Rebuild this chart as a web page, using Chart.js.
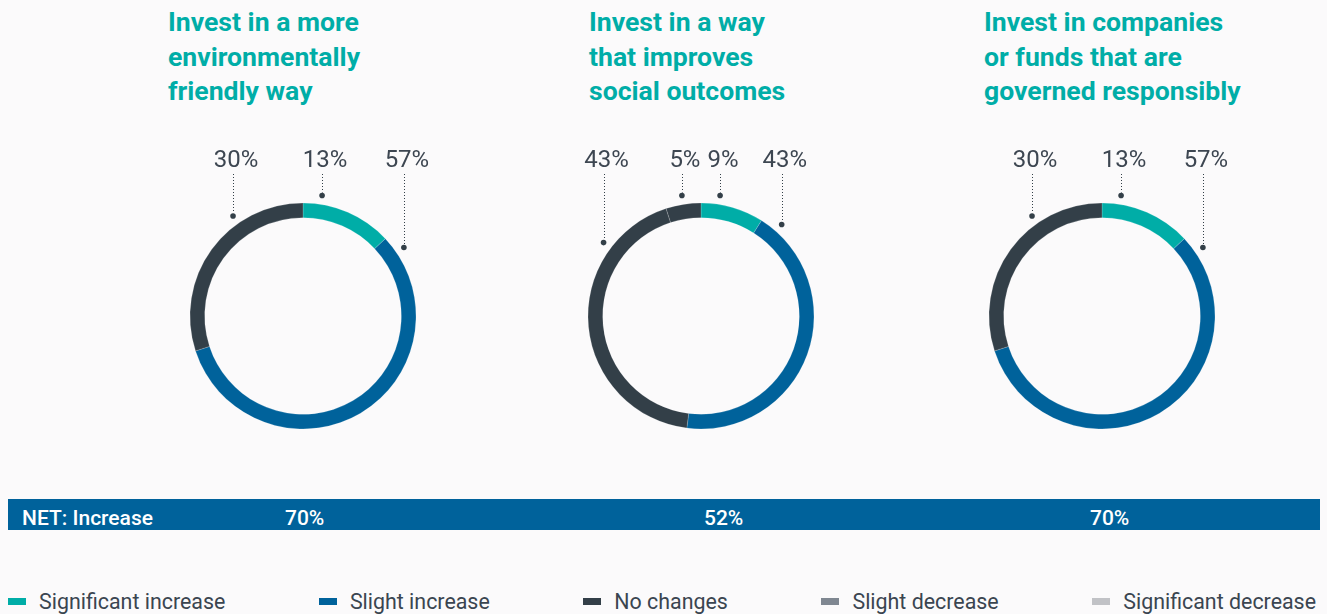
<!DOCTYPE html>
<html>
<head>
<meta charset="utf-8">
<script src="https://cdn.jsdelivr.net/npm/chart.js@4.4.0/dist/chart.umd.min.js"></script>
<style>
  body { margin: 0; background: #fbfafb; font-family: Roboto, 'Noto Sans', sans-serif; }
  #page { position: relative; width: 1327px; height: 614px; overflow: hidden; }
  .title { position: absolute; top: 5px; color: #00ada7; font-weight: 700; font-size: 26.6px; line-height: 34.5px; white-space: nowrap; }
  .donut { position: absolute; top: 130px; width: 300px; height: 320px; }
  #net { position: absolute; left: 8px; top: 499px; width: 1312px; height: 31px; background: #00629b; color: #fff; font-size: 21px; font-weight: 500; }
  #net span { position: absolute; top: 4px; line-height: 31px; }
  #legend { position: absolute; left: 8px; width: 1308px; top: 589px; display: flex; justify-content: space-between; font-size: 21.4px; color: #3a4550; }
  #legend .item { display: flex; align-items: center; white-space: nowrap; }
  #legend .box { width: 18px; height: 7px; margin-right: 13px; }
</style>
</head>
<body>
<div id="page">
  <div id="net"><span style="left:14px">NET: Increase</span></div>
  <div id="legend"></div>
</div>
<script>
const categories = ['Significant increase', 'Slight increase', 'No changes', 'Slight decrease', 'Significant decrease'];
const colors = ['#00ada7', '#00629b', '#333f48', '#7f8791', '#c1c2c6'];

const titles = [
    ['Invest in a more', 'environmentally', 'friendly way'],
    ['Invest in a way', 'that improves', 'social outcomes'],
    ['Invest in companies', 'or funds that are', 'governed responsibly']
];
const envValues = [13, 57, 30, 0, 0];
const socialValues = [9, 43, 43, 5, 0];
const governValues = [13, 57, 30, 0, 0];
const netValues = [70, 52, 70];

// layout
const centers = [303, 701, 1102];
const titleX = [168, 589, 984];
const netX = [285, 704, 1090];

const deg = d => d * Math.PI / 180;

const leaderLabels = {
    id: 'leaderLabels',
    afterDatasetsDraw(chart) {
        const ctx = chart.ctx;
        const data = chart.data.datasets[0].data;
        chart.getDatasetMeta(0).data.forEach((arc, i) => {
            if (!data[i]) return;
            const p = arc.getProps(['x', 'y', 'startAngle', 'endAngle', 'outerRadius'], true);
            const s = p.startAngle + Math.PI / 2, e = p.endAngle + Math.PI / 2;
            const half = (e - s) / 2;
            const a = (s + half) < Math.PI ? s + Math.min(half, deg(9)) : e - Math.min(half, deg(35));
            const r = p.outerRadius + 9;
            const px = p.x + r * Math.sin(a), py = p.y - r * Math.cos(a);
            ctx.save();
            ctx.strokeStyle = '#333f48';
            ctx.lineWidth = 1;
            ctx.setLineDash([1, 2]);
            ctx.beginPath();
            ctx.moveTo(Math.round(px) + 0.5, 44);
            ctx.lineTo(Math.round(px) + 0.5, py - 3);
            ctx.stroke();
            ctx.setLineDash([]);
            ctx.fillStyle = '#333f48';
            ctx.beginPath();
            ctx.arc(px, py, 2.8, 0, Math.PI * 2);
            ctx.fill();
            ctx.fillStyle = '#3d4651';
            ctx.font = '400 24px Roboto';
            ctx.textAlign = 'center';
            ctx.textBaseline = 'middle';
            ctx.fillText(data[i] + '%', px + 3, 31);
            ctx.restore();
        });
    }
};

const page = document.getElementById('page');
const allValues = [envValues, socialValues, governValues];

allValues.forEach((vals, k) => {
    const t = document.createElement('div');
    t.className = 'title';
    t.style.left = titleX[k] + 'px';
    t.innerHTML = titles[k].join('<br>');
    page.appendChild(t);

    const box = document.createElement('div');
    box.className = 'donut';
    box.style.left = (centers[k] - 150) + 'px';
    const cv = document.createElement('canvas');
    cv.width = 300; cv.height = 320;
    box.appendChild(cv);
    page.appendChild(box);

    // the social chart draws its 5% slice in the no-change colour
    const segColors = k === 1 ? [colors[0], colors[1], colors[2], colors[2], colors[4]] : colors;

    new Chart(cv.getContext('2d'), {
        type: 'doughnut',
        data: {
            labels: categories,
            datasets: [{
                data: vals,
                backgroundColor: segColors,
                borderWidth: 1,
                borderColor: 'rgba(255,255,255,0.18)'
            }]
        },
        options: {
            responsive: false,
            animation: false,
            cutout: '87%',
            layout: { padding: { top: 72.5, bottom: 20.5, left: 36.5, right: 36.5 } },
            plugins: { legend: { display: false }, tooltip: { enabled: false } }
        },
        plugins: [leaderLabels]
    });
});

const net = document.getElementById('net');
netValues.forEach((v, k) => {
    const s = document.createElement('span');
    s.style.left = (netX[k] - 8) + 'px';
    s.textContent = v + '%';
    net.appendChild(s);
});

const legend = document.getElementById('legend');
categories.forEach((c, i) => {
    const it = document.createElement('div');
    it.className = 'item';
    it.innerHTML = `<span class="box" style="background:${colors[i]}"></span><span>${c}</span>`;
    legend.appendChild(it);
});
</script>
</body>
</html>
